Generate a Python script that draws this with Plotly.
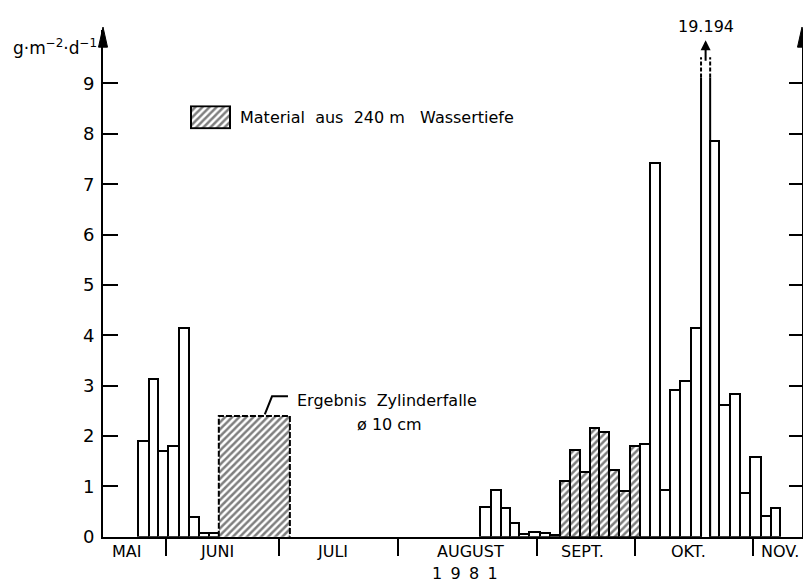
import plotly.graph_objects as go

W, H = 803, 586          # reference picture size
HF = 598                 # figure height (compensates vertical squeeze of capture)

# ---------------- data (x in days, y in g m^-2 d^-1) ----------------
white_start = [23.7, 26.4, 29.0, 31.6, 34.5, 37.1, 39.7, 42.4,
               113.6, 116.4, 119.2, 121.5, 124.0, 126.6, 129.4, 132.1,
               155.7, 158.4, 161.0, 163.6, 166.3, 169.1, 171.8, 174.2, 176.6,
               179.4, 182.0, 184.8, 187.7, 190.3]
white_end = [26.4, 29.0, 31.6, 34.5, 37.1, 39.7, 42.4, 44.9,
             116.4, 119.2, 121.5, 124.0, 126.6, 129.4, 132.1, 134.7,
             158.4, 161.0, 163.6, 166.3, 169.1, 171.8, 174.2, 176.6, 179.4,
             182.0, 184.8, 187.7, 190.3, 192.7]
white_value = [1.9, 3.13, 1.7, 1.8, 4.15, 0.4, 0.07, 0.07,
               0.6, 0.92, 0.58, 0.28, 0.05, 0.1, 0.07, 0.03,
               1.85, 7.42, 0.92, 2.92, 3.1, 4.15, 19.194, 7.85, 2.61,
               2.83, 0.86, 1.58, 0.42, 0.58]

hatch_start = [134.7, 137.3, 140.0, 142.6, 145.0, 147.7, 150.3, 153.1]
hatch_end = [137.3, 140.0, 142.6, 145.0, 147.7, 150.3, 153.1, 155.7]
hatch_value = [1.1, 1.72, 1.28, 2.16, 2.08, 1.33, 0.9, 1.8]

trap_start = [44.9]
trap_end = [63.6]
trap_value = [2.4]

month_bounds = [31.0, 60.7, 92.1, 128.6, 154.4, 185.6]
month_labels = ["MAI", "JUNI", "JULI", "AUGUST", "SEPT.", "OKT.", "NOV."]
month_label_pos = [20.7, 44.3, 74.9, 111.0, 140.7, 168.4, 192.6]
year_label = "1\u00a0\u20099\u00a0\u20098\u00a0\u20091"
y_ticks = [0, 1, 2, 3, 4, 5, 6, 7, 8, 9]

# ---------------- display settings ----------------
X_RANGE = [14.42, 198.37]
Y_TOP = 10.06
BREAK_SOLID = 9.12
BREAK_DASH = 9.52
FONT = "DejaVu Sans"
PAT = dict(shape="/", fgcolor="black", bgcolor="white", size=5, solidity=0.5)


def px(x):
    return x / W


def py(y):
    return 1 - y / H


fig = go.Figure()

ws, we, wv = [], [], []
off = []
for s, e, v in zip(white_start, white_end, white_value):
    if v <= Y_TOP:
        ws.append(s); we.append(e); wv.append(v)
    else:
        off.append((s, e, v))

fig.add_trace(go.Bar(
    x=[(s + e) / 2 for s, e in zip(ws, we)], y=wv,
    width=[e - s for s, e in zip(ws, we)],
    marker=dict(color="white", line=dict(color="black", width=2)),
    showlegend=False, hoverinfo="skip"))

fig.add_trace(go.Bar(
    x=[(s + e) / 2 for s, e in zip(hatch_start, hatch_end)], y=hatch_value,
    width=[e - s for s, e in zip(hatch_start, hatch_end)],
    marker=dict(color="white", pattern=PAT, line=dict(color="black", width=2)),
    showlegend=False, hoverinfo="skip"))

fig.add_trace(go.Bar(
    x=[(s + e) / 2 for s, e in zip(trap_start, trap_end)], y=trap_value,
    width=[e - s for s, e in zip(trap_start, trap_end)],
    marker=dict(color="white", pattern=PAT, line=dict(width=0)),
    showlegend=False, hoverinfo="skip"))
for s, e, v in zip(trap_start, trap_end, trap_value):
    fig.add_trace(go.Scatter(x=[s, s, e, e], y=[0, v, v, 0], mode="lines",
                             line=dict(color="black", width=2, dash="6px,2px"),
                             showlegend=False, hoverinfo="skip"))

for s, e, v in off:
    fig.add_trace(go.Scatter(x=[s, s, None, e, e], y=[0, BREAK_SOLID, None, BREAK_SOLID, 0],
                             mode="lines", line=dict(color="black", width=2),
                             showlegend=False, hoverinfo="skip"))
    fig.add_trace(go.Scatter(x=[s, s, None, e, e], y=[BREAK_SOLID, BREAK_DASH, None, BREAK_SOLID, BREAK_DASH],
                             mode="lines", line=dict(color="black", width=2, dash="4px,2px"),
                             showlegend=False, hoverinfo="skip"))
    c = (s + e) / 2
    fig.add_annotation(x=c, y=9.86, xref="x", yref="y", text="", showarrow=True,
                       ax=0, ay=22, arrowhead=2, arrowsize=1, arrowwidth=2, arrowcolor="black")
    fig.add_annotation(x=c, y=py(26), xref="x", yref="paper", yanchor="middle", text=f"{v:.3f}",
                       showarrow=False, font=dict(size=16, family=FONT, color="black"))

fig.add_trace(go.Scatter(x=[X_RANGE[0]], y=[0], yaxis="y2", mode="markers",
                         marker=dict(opacity=0), showlegend=False, hoverinfo="skip"))

fig.add_trace(go.Bar(x=[0], y=[1], width=[1], xaxis="x3", yaxis="y3",
                     marker=dict(color="white", pattern=PAT, line=dict(color="black", width=2)),
                     showlegend=False, hoverinfo="skip"))

ydom = [py(535), py(30)]
fig.update_layout(
    width=W, height=HF, autosize=False, margin=dict(l=0, r=0, t=0, b=0, pad=0),
    paper_bgcolor="white", plot_bgcolor="white",
    font=dict(family=FONT, size=16, color="black"),
    barmode="overlay", bargap=0,
    xaxis=dict(domain=[px(103), px(802)], range=X_RANGE, showline=True, linecolor="black",
               linewidth=2, ticks="outside", ticklen=17, tickwidth=2, tickcolor="black",
               tickvals=month_bounds, showticklabels=False, showgrid=False, zeroline=False),
    yaxis=dict(domain=ydom, range=[0, Y_TOP], showline=True, linecolor="black", linewidth=2,
               ticks="inside", ticklen=15, tickwidth=2, tickcolor="black", tickvals=y_ticks,
               tickfont=dict(size=18), showgrid=False, zeroline=False, ticklabelstandoff=3),
    yaxis2=dict(domain=ydom, range=[0, Y_TOP], overlaying="y", side="right", anchor="x",
                showline=True, linecolor="black", linewidth=2, ticks="inside", ticklen=13,
                tickwidth=2, tickcolor="black", tickvals=y_ticks, showticklabels=False,
                showgrid=False, zeroline=False),
    xaxis3=dict(domain=[px(190), px(231)], range=[-0.53, 0.53], anchor="y3", visible=False),
    yaxis3=dict(domain=[py(129), py(105)], range=[-0.05, 1.05], anchor="x3", visible=False),
)

for xa in (103, 802):
    fig.add_shape(type="path", xref="paper", yref="paper",
                  path=f"M {px(xa)},{py(27)} L {px(xa-4.5)},{py(47)} L {px(xa+4.5)},{py(47)} Z",
                  fillcolor="black", line=dict(color="black", width=1))

fig.add_shape(type="path", xref="x", yref="y",
              path="M 63.1,2.79 L 58.9,2.79 L 57.0,2.43",
              line=dict(color="black", width=2))

fig.add_annotation(x=64.9, y=2.71, xref="x", yref="y", xanchor="left", yanchor="middle",
                   text="Ergebnis\u00a0\u00a0Zylinderfalle", showarrow=False)
fig.add_annotation(x=89.9, y=2.23, xref="x", yref="y", yanchor="middle",
                   text="ø 10 cm", showarrow=False)
fig.add_annotation(x=px(238), y=py(117), xref="paper", yref="paper", xanchor="left", yanchor="middle",
                   text="Material\u00a0\u00a0aus\u00a0\u00a0240\u00a0m\u00a0\u00a0\u00a0Wassertiefe", showarrow=False)
fig.add_annotation(x=px(11), y=py(47), xref="paper", yref="paper", xanchor="left", yanchor="middle",
                   text="g·m<sup>−2</sup>·d<sup>−1</sup>", showarrow=False, font=dict(size=17))
for lab, pos in zip(month_labels, month_label_pos):
    fig.add_annotation(x=pos, y=py(550), xref="x", yref="paper", yanchor="middle",
                       text=lab, showarrow=False)
fig.add_annotation(x=109.7, y=py(572), xref="x", yref="paper", yanchor="middle",
                   text=year_label, showarrow=False, borderpad=0)

post = ("var de=document.documentElement, b=document.body;"
        "de.style.margin='0';de.style.padding='0';de.style.overflow='hidden';"
        "b.style.margin='0';b.style.padding='0';b.style.overflow='hidden';")
fig.write_html("out.html", post_script=post, config={"displayModeBar": False})
